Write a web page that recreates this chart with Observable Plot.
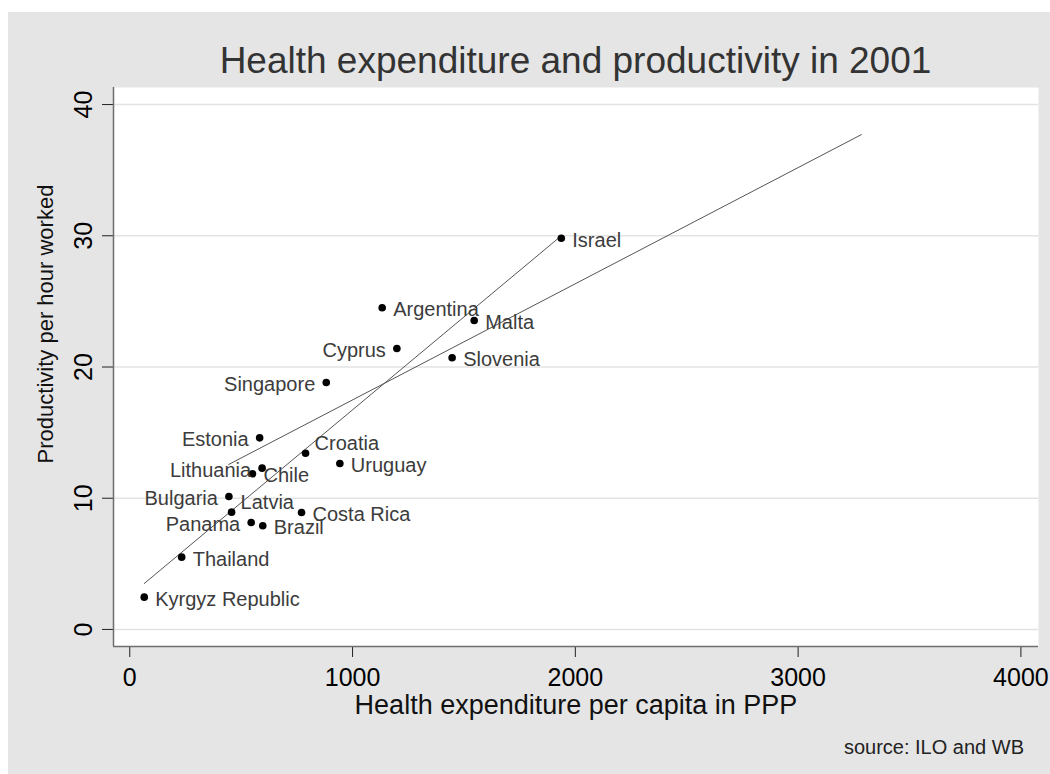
<!DOCTYPE html>
<html>
<head>
<meta charset="utf-8">
<script src="https://cdn.jsdelivr.net/npm/d3@7"></script>
<script src="https://cdn.jsdelivr.net/npm/@observablehq/plot@0.6"></script>
<style>
  html, body { margin: 0; padding: 0; background: #ffffff; }
  #page { position: relative; width: 1050px; height: 774px; overflow: hidden; font-family: "Liberation Sans", Arial, sans-serif; }
  #bg { position: absolute; left: 8px; top: 12px; width: 1042px; height: 762px; background: #e5e5e5; }
  #chart { position: absolute; left: 0; top: 0; }
  #title { position: absolute; left: 113px; width: 925px; top: 40px; text-align: center; font-size: 37px; color: #333; white-space: nowrap; }
  #source { position: absolute; right: 26px; top: 736px; font-size: 20px; color: #222; white-space: nowrap; }
</style>
</head>
<body>
<div id="page">
  <div id="bg"></div>
  <div id="chart"></div>
  <div id="title">Health expenditure and productivity in 2001</div>
  <div id="source">source: ILO and WB</div>
</div>
<script>
// ---- data ----
const countries = ["Kyrgyz Republic","Thailand","Panama","Bulgaria","Latvia","Brazil","Costa Rica","Lithuania","Chile","Estonia","Croatia","Uruguay","Singapore","Cyprus","Slovenia","Malta","Argentina","Israel"];
const healthExp = [65, 233, 545, 445, 457, 597, 771, 594, 551, 583, 789, 943, 882, 1199, 1447, 1546, 1133, 1937];
const productivity = [2.46, 5.51, 8.15, 10.13, 8.94, 7.90, 8.91, 12.29, 11.86, 14.6, 13.43, 12.65, 18.82, 21.41, 20.70, 23.54, 24.51, 29.81];

// fitted lines (end points)
const fit1X = [65, 1930];
const fit1Y = [3.5, 29.9];
const fit2X = [444, 3284];
const fit2Y = [12.57, 37.71];

const xTicks = [0, 1000, 2000, 3000, 4000];
const yTicks = [0, 10, 20, 30, 40];
const xDomain = [-73, 4079];
const yDomain = [-1.3, 41.3];

const xTitle = "Health expenditure per capita in PPP";
const yTitle = "Productivity per hour worked";

// label placement (Stata-like clock positions)
const leftLabels = new Set(["Panama","Bulgaria","Lithuania","Estonia","Singapore","Cyprus"]);
const upLabels = new Set(["Latvia","Croatia"]);

// ---- build ----
const data = countries.map((c, i) => ({country: c, x: healthExp[i], y: productivity[i]}));
const fit1 = fit1X.map((x, i) => ({x, y: fit1Y[i]}));
const fit2 = fit2X.map((x, i) => ({x, y: fit2Y[i]}));

const labelStyle = {x: "x", y: "y", text: "country", fontSize: 20, fill: "#3c3c3c"};

const chart = Plot.plot({
  width: 1050,
  height: 774,
  marginLeft: 113,
  marginRight: 12,
  marginTop: 87,
  marginBottom: 128,
  x: {domain: xDomain},
  y: {domain: yDomain},
  style: {background: "transparent", fontFamily: "'Liberation Sans', Arial, sans-serif", color: "black"},
  marks: [
    Plot.frame({fill: "white", stroke: null}),
    Plot.gridY(yTicks, {stroke: "#e3e3e3", strokeOpacity: 1, strokeWidth: 1.5}),
    Plot.axisX(xTicks, {tickSize: 11, tickPadding: 11, fontSize: 25, label: null, tickFormat: d => String(d), stroke: "#222"}),
    Plot.axisY(yTicks, {tickSize: 11, tickPadding: 11, tickRotate: -90, fontSize: 25, label: null, stroke: "#222"}),
    Plot.ruleX([xDomain[0]], {stroke: "#6e6e6e", strokeWidth: 1.5}),
    Plot.ruleY([yDomain[0]], {stroke: "#6e6e6e", strokeWidth: 1.5}),
    Plot.text([xTitle], {frameAnchor: "bottom", dy: 67, fontSize: 27, fill: "#111"}),
    Plot.text([yTitle], {frameAnchor: "left", rotate: -90, textAnchor: "middle", dx: -68, dy: -43, fontSize: 22, fill: "#111"}),
    Plot.line(fit1, {x: "x", y: "y", stroke: "#555", strokeWidth: 1}),
    Plot.line(fit2, {x: "x", y: "y", stroke: "#555", strokeWidth: 1}),
    Plot.dot(data, {x: "x", y: "y", r: 3.8, fill: "black", stroke: null}),
    Plot.text(data.filter(d => !leftLabels.has(d.country) && !upLabels.has(d.country)), {...labelStyle, textAnchor: "start", dx: 11, dy: 2}),
    Plot.text(data.filter(d => upLabels.has(d.country)), {...labelStyle, textAnchor: "start", dx: 9, dy: -10}),
    Plot.text(data.filter(d => leftLabels.has(d.country)), {...labelStyle, textAnchor: "end", dx: -11, dy: 2})
  ]
});
document.getElementById("chart").appendChild(chart);
</script>
</body>
</html>
